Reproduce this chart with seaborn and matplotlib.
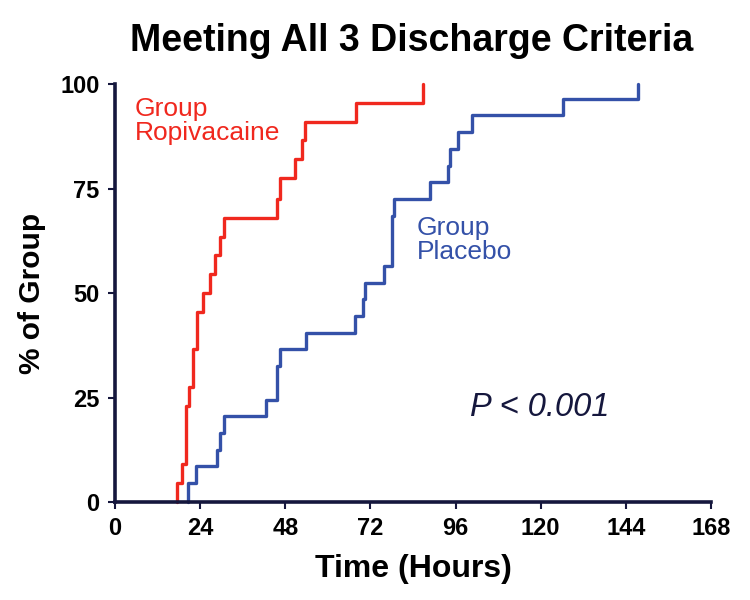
import matplotlib
matplotlib.use("Agg")
import matplotlib.pyplot as plt
import pandas as pd
import seaborn as sns

# cumulative % of each group meeting all 3 discharge criteria
ropi_hours = [17.5, 17.5, 18.8, 20.0, 21.0, 21.9, 23.0, 24.9, 26.8, 28.2, 29.6,
              30.7, 45.7, 46.5, 50.7, 52.6, 53.5, 67.9, 86.7]
ropi_pct = [0, 4.5, 9, 23, 27.5, 36.5, 45.5, 50, 54.5, 59, 63.5,
            68, 72.5, 77.5, 82, 86.5, 91, 95.5, 100]

placebo_hours = [20.7, 20.7, 22.8, 28.8, 29.6, 30.7, 42.7, 45.6, 46.5, 53.8, 67.6,
                 70.0, 70.5, 75.8, 78.0, 78.6, 88.8, 94.0, 94.4, 96.8, 100.5,
                 126.4, 147.5]
placebo_pct = [0, 4.5, 8.5, 12.5, 16.5, 20.5, 24.5, 32.5, 36.5, 40.5, 44.5,
               48.5, 52.5, 56.5, 68.5, 72.5, 76.5, 80.5, 84.5, 88.5, 92.5,
               96.5, 100]

x_ticks = [0, 24, 48, 72, 96, 120, 144, 168]
y_ticks = [0, 25, 50, 75, 100]

ropi = pd.DataFrame({'hours': ropi_hours, 'pct': ropi_pct})
placebo = pd.DataFrame({'hours': placebo_hours, 'pct': placebo_pct})

sns.set_theme(style="white")
plt.rcParams['font.family'] = ['Liberation Sans', 'DejaVu Sans']
plt.rcParams['text.color'] = 'black'
plt.rcParams['axes.labelcolor'] = 'black'

navy = '#15173d'
red = '#f0281e'
blue = '#3451a8'

fig = plt.figure(figsize=(7.5, 6), dpi=100)
ax = fig.add_axes([0.1533, 0.1633, 0.7947, 0.6967])

sns.lineplot(x='hours', y='pct', data=ropi, estimator=None, sort=False,
             drawstyle='steps-post', color=red, linewidth=2.4, ax=ax, clip_on=False)
sns.lineplot(x='hours', y='pct', data=placebo, estimator=None, sort=False,
             drawstyle='steps-post', color=blue, linewidth=2.4, ax=ax, clip_on=False)

ax.set_xlim(0, 168)
ax.set_ylim(0, 100)
ax.set_xticks(x_ticks)
ax.set_yticks(y_ticks)
ax.tick_params(axis='both', direction='out', length=5, width=1.5, color=navy,
               labelcolor='black', pad=6, labelsize=17)
ax.tick_params(axis='x', bottom=True)
ax.tick_params(axis='y', left=True)
for lab in ax.get_xticklabels() + ax.get_yticklabels():
    lab.set_fontweight('bold')

sns.despine(ax=ax)
for side in ('left', 'bottom'):
    ax.spines[side].set_color(navy)
    ax.spines[side].set_linewidth(2.6)
    ax.spines[side].set_zorder(5)

ax.set_xlabel('Time (Hours)', fontsize=23, fontweight='bold', labelpad=10)
ax.set_ylabel('% of Group', fontsize=21.5, fontweight='bold', labelpad=10)
fig.text(0.549, 0.915, 'Meeting All 3 Discharge Criteria', fontsize=27,
         fontweight='bold', ha='center', va='baseline')

ax.text(5.5, 97, 'Group\nRopivacaine', color=red, fontsize=19, ha='left', va='top',
        linespacing=1.0)
ax.text(85, 68.5, 'Group\nPlacebo', color=blue, fontsize=19, ha='left', va='top',
        linespacing=1.0)
ax.text(100, 22.7, 'P < 0.001', color=navy, fontsize=23.5, style='italic',
        ha='left', va='center')

plt.savefig('out.png', dpi=100)
